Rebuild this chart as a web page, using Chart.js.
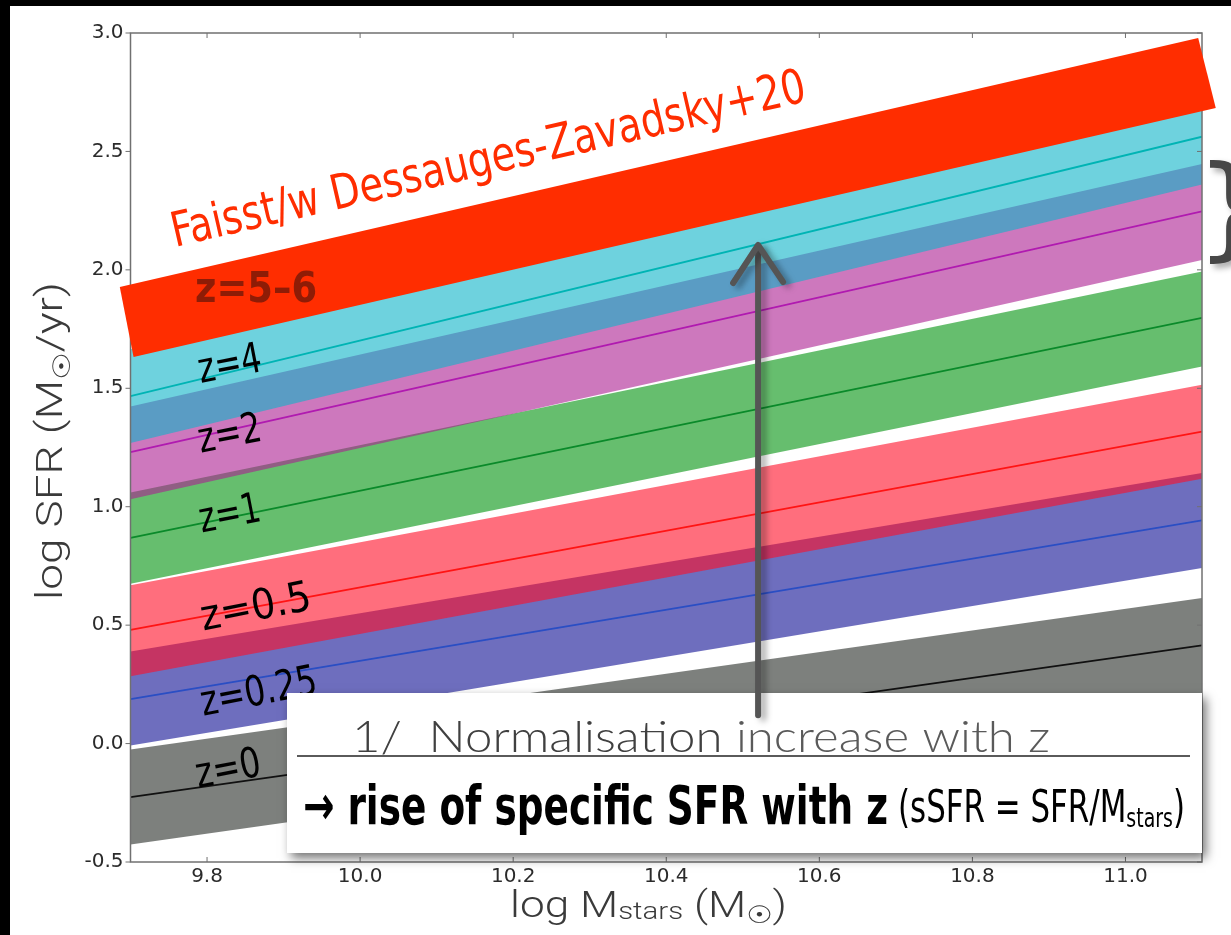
<!DOCTYPE html>
<html>
<head>
<meta charset="utf-8">
<script src="https://cdn.jsdelivr.net/npm/chart.js@4.4.1/dist/chart.umd.min.js"></script>
<style>
  html, body { margin: 0; padding: 0; background: #000; }
  body { width: 1231px; height: 935px; overflow: hidden; position: relative; }
  #wrap { position: absolute; left: 10px; top: 6px; width: 1221px; height: 929px; background: #fff; }
  canvas { display: block; }
</style>
</head>
<body>
<div id="wrap"><canvas id="ms" width="1221" height="929"></canvas></div>
<script>
// Stellar mass grid (log M*) at which each main-sequence band is given
const massX = [9.7, 11.1];

// Main-sequence bands: lower edge, centre line, upper edge (log SFR)
const loZ0   = [-0.426, 0.215];
const midZ0  = [-0.226, 0.415];
const upZ0   = [-0.025, 0.615];

const loZ025  = [-0.008, 0.741];
const midZ025 = [0.188, 0.942];
const upZ025  = [0.389, 1.142];

const loZ05  = [0.284, 1.118];
const midZ05 = [0.480, 1.317];
const upZ05  = [0.668, 1.515];

const loZ1   = [0.675, 1.592];
const midZ1  = [0.868, 1.797];
const upZ1   = [1.060, 1.993];

const loZ2   = [1.032, 2.042];
const midZ2  = [1.230, 2.247];
const upZ2   = [1.423, 2.447];

const loZ4   = [1.269, 2.360];
const midZ4  = [1.467, 2.562];
const upZ4   = [1.665, 2.762];

// z = 5-6 band (corners, log M* / log SFR)
const faisstMass = [9.686, 11.095, 11.118, 9.704];
const faisstSfr  = [1.928, 2.979, 2.683, 1.632];

// Normalisation arrow (log M*, log SFR from tail to head)
const arrowMass = 10.52;
const arrowSfr  = [0.12, 2.105];

// Axis ticks
const xTicks = [9.8, 10.0, 10.2, 10.4, 10.6, 10.8, 11.0];
const yTicks = [-0.5, 0.0, 0.5, 1.0, 1.5, 2.0, 2.5, 3.0];

const bandLabels = ['z=0', 'z=0.25', 'z=0.5', 'z=1', 'z=2', 'z=4'];

const bands = [
  { lo: loZ0,  mid: midZ0,  up: upZ0,  fill: 'rgba(38,43,38,0.6)',   line: '#111111' },
  { lo: loZ025, mid: midZ025, up: upZ025, fill: 'rgba(13,13,147,0.6)', line: '#2a4ec4' },
  { lo: loZ05, mid: midZ05, up: upZ05, fill: 'rgba(255,13,38,0.6)',   line: '#ff1414' },
  { lo: loZ1,  mid: midZ1,  up: upZ1,  fill: 'rgba(0,147,13,0.6)',    line: '#0a8a2a' },
  { lo: loZ2,  mid: midZ2,  up: upZ2,  fill: 'rgba(172,30,145,0.6)',  line: '#b01ab0' },
  { lo: loZ4,  mid: midZ4,  up: upZ4,  fill: 'rgba(13,180,200,0.6)',  line: '#00b4b4' }
];

const toPts = ys => massX.map((m, i) => ({ x: m, y: ys[i] }));

const datasets = [];
bands.forEach((b, i) => {
  const base = (bands.length - i) * 10;  // higher redshift drawn on top
  const upIdx = datasets.length;
  datasets.push({ label: bandLabels[i] + ' upper', data: toPts(b.up), fill: upIdx + 1,
    backgroundColor: b.fill, borderColor: 'rgba(0,0,0,0)', borderWidth: 0, pointRadius: 0, order: base });
  datasets.push({ label: bandLabels[i] + ' lower', data: toPts(b.lo), fill: false,
    borderColor: 'rgba(0,0,0,0)', borderWidth: 0, pointRadius: 0, order: base });
  datasets.push({ label: bandLabels[i], data: toPts(b.mid), fill: false,
    borderColor: b.line, borderWidth: 1.8, pointRadius: 0, order: base - 1 });
});

// Redshift labels placed in data space
const zLabelPos = [
  { text: 'z=0',    x: 9.827, y: -0.098, w: 66 },
  { text: 'z=0.25', x: 9.867, y: 0.227,  w: 118 },
  { text: 'z=0.5',  x: 9.863, y: 0.585,  w: 112 },
  { text: 'z=1',    x: 9.829, y: 0.978,  w: 62 },
  { text: 'z=2',    x: 9.829, y: 1.316,  w: 64 },
  { text: 'z=4',    x: 9.829, y: 1.610,  w: 64 }
];

const COND = "'DejaVu Sans Condensed', 'Liberation Sans Narrow', 'DejaVu Sans', sans-serif";
const THIN = "Roboto, 'Liberation Sans', sans-serif";

function drawSegs(ctx, segs, x, y, width, align) {
  let total = 0;
  segs.forEach(s => { ctx.font = s.font; s.w = ctx.measureText(s.text).width; total += s.w; });
  const k = width ? width / total : 1;
  ctx.save();
  ctx.translate(x, y);
  ctx.scale(k, 1);
  let cx = align === 'center' ? -total / 2 : 0;
  ctx.textAlign = 'left';
  ctx.textBaseline = 'alphabetic';
  segs.forEach(s => {
    ctx.font = s.font;
    ctx.fillStyle = s.color;
    ctx.fillText(s.text, cx, s.dy || 0);
    cx += s.w;
  });
  ctx.restore();
}

const overlay = {
  id: 'overlay',
  afterDraw(chart) {
    const { ctx, chartArea: a, scales } = chart;
    const px = v => scales.x.getPixelForValue(v);
    const py = v => scales.y.getPixelForValue(v);
    const seg = (x1, y1, x2, y2) => { ctx.beginPath(); ctx.moveTo(x1, y1); ctx.lineTo(x2, y2); ctx.stroke(); };

    ctx.save();
    // plot frame and tick marks
    ctx.strokeStyle = '#707070';
    ctx.lineWidth = 1.5;
    ctx.strokeRect(a.left, a.top, a.right - a.left, a.bottom - a.top);
    ctx.lineWidth = 1;
    xTicks.forEach(t => { const X = px(t); seg(X, a.bottom, X, a.bottom - 5); seg(X, a.top, X, a.top + 5); });
    yTicks.forEach(t => { const Y = py(t); seg(a.left - 5, Y, a.left, Y); seg(a.right, Y, a.right - 5, Y); });

    // z = 5-6 band
    ctx.beginPath();
    faisstMass.forEach((m, i) => {
      const X = px(m), Y = py(faisstSfr[i]);
      if (i) ctx.lineTo(X, Y); else ctx.moveTo(X, Y);
    });
    ctx.closePath();
    ctx.fillStyle = '#ff2d00';
    ctx.fill();

    // band title along the band
    const ang = Math.atan2(py(faisstSfr[1]) - py(faisstSfr[0]), px(faisstMass[1]) - px(faisstMass[0]));
    ctx.save();
    ctx.translate(px(9.758), py(2.097));
    ctx.rotate(ang);
    drawSegs(ctx, [{ text: 'Faisst/w Dessauges-Zavadsky+20', font: '48px ' + COND, color: '#ff2d00' }], 0, 0, 650);
    ctx.restore();

    // z=5–6 label
    drawSegs(ctx, [{ text: 'z=5\u20136', font: 'bold 42px ' + COND, color: '#8e1c06' }],
      px(9.864), py(1.928) + 15, 122, 'center');

    // redshift labels
    zLabelPos.forEach(l => {
      ctx.save();
      ctx.translate(px(l.x), py(l.y));
      ctx.rotate(-11 * Math.PI / 180);
      drawSegs(ctx, [{ text: l.text, font: '42px ' + COND, color: '#000' }], 0, 15, l.w, 'center');
      ctx.restore();
    });

    // text box
    const bx = 277, by = 687, bw = a.right - 277, bh = 160;
    ctx.save();
    ctx.shadowColor = 'rgba(0,0,0,0.55)';
    ctx.shadowBlur = 10;
    ctx.shadowOffsetX = 4;
    ctx.shadowOffsetY = 5;
    ctx.fillStyle = '#ffffff';
    ctx.fillRect(bx, by, bw, bh);
    ctx.restore();

    drawSegs(ctx, [
      { text: '1/  Normalisation', font: "300 44px Lato, 'Open Sans', sans-serif", color: '#404040' },
      { text: ' increase with z', font: "300 44px Lato, 'Open Sans', sans-serif", color: '#5a5a5a' }
    ], 342, 746, 698);

    ctx.strokeStyle = '#5a5a5a';
    ctx.lineWidth = 2;
    seg(287, 750, 1180, 750);

    drawSegs(ctx, [{ text: '\u2192 rise of specific SFR with z', font: 'bold 54px ' + COND, color: '#000' }],
      293, 818, 585);
    drawSegs(ctx, [
      { text: '(sSFR = SFR/M', font: '44px ' + COND, color: '#000' },
      { text: 'stars', font: '27px ' + COND, color: '#000', dy: 5 },
      { text: ')', font: '44px ' + COND, color: '#000' }
    ], 888, 816, 287);

    // normalisation arrow
    ctx.save();
    ctx.shadowColor = 'rgba(0,0,0,0.35)';
    ctx.shadowBlur = 6;
    ctx.shadowOffsetX = 5;
    ctx.shadowOffsetY = 3;
    ctx.strokeStyle = '#555555';
    ctx.lineWidth = 6;
    ctx.lineCap = 'round';
    ctx.lineJoin = 'round';
    const ax = px(arrowMass), ay0 = py(arrowSfr[0]), ay1 = py(arrowSfr[1]);
    ctx.beginPath();
    ctx.moveTo(ax, ay0);
    ctx.lineTo(ax, ay1 + 4);
    ctx.stroke();
    ctx.beginPath();
    ctx.moveTo(ax - 25, ay1 + 38);
    ctx.lineTo(ax, ay1);
    ctx.lineTo(ax + 25, ay1 + 37);
    ctx.stroke();
    ctx.restore();

    // brace at the right edge
    ctx.save();
    ctx.shadowColor = 'rgba(0,0,0,0.35)';
    ctx.shadowBlur = 6;
    ctx.shadowOffsetX = 4;
    ctx.shadowOffsetY = 4;
    ctx.fillStyle = '#474747';
    ctx.font = "112px 'DejaVu Sans', sans-serif";
    ctx.textAlign = 'left';
    ctx.textBaseline = 'alphabetic';
    ctx.fillText('}', 1186, 239);
    ctx.restore();

    // axis titles
    ctx.save();
    ctx.translate(52, 435);
    ctx.rotate(-Math.PI / 2);
    drawSegs(ctx, [
      { text: 'log SFR (M', font: '300 36px ' + THIN, color: '#3a3a3a' },
      { text: '\u2609', font: "24px 'DejaVu Sans', sans-serif", color: '#3a3a3a', dy: 8 },
      { text: '/yr)', font: '300 36px ' + THIN, color: '#3a3a3a' }
    ], 0, 0, 318, 'center');
    ctx.restore();

    drawSegs(ctx, [
      { text: 'log M', font: '300 36px ' + THIN, color: '#3a3a3a' },
      { text: 'stars', font: '300 24px ' + THIN, color: '#3a3a3a', dy: 2 },
      { text: ' (M', font: '300 36px ' + THIN, color: '#3a3a3a' },
      { text: '\u2609', font: "24px 'DejaVu Sans', sans-serif", color: '#3a3a3a', dy: 6 },
      { text: ')', font: '300 36px ' + THIN, color: '#3a3a3a' }
    ], 500, 911, 277);

    ctx.restore();
  }
};

const tickFont = { family: "'DejaVu Sans', sans-serif", size: 20 };

new Chart(document.getElementById('ms'), {
  type: 'line',
  data: { datasets },
  options: {
    responsive: false,
    animation: false,
    devicePixelRatio: 1,
    events: [],
    layout: { padding: { top: 27, right: 29, left: 0, bottom: 0 } },
    plugins: { legend: { display: false }, tooltip: { enabled: false } },
    scales: {
      x: {
        type: 'linear', min: 9.7, max: 11.1,
        grid: { display: false, drawTicks: false },
        border: { display: false },
        afterBuildTicks: s => { s.ticks = xTicks.map(v => ({ value: v })); },
        afterFit: s => { s.height = 73; },
        ticks: { font: tickFont, color: '#2b2b2b', padding: 3, maxRotation: 0, callback: v => v.toFixed(1) }
      },
      y: {
        type: 'linear', min: -0.5, max: 3.0,
        grid: { display: false, drawTicks: false },
        border: { display: false },
        afterBuildTicks: s => { s.ticks = yTicks.map(v => ({ value: v })); },
        afterFit: s => { s.width = 120.5; },
        ticks: { font: tickFont, color: '#2b2b2b', padding: 7, callback: v => v.toFixed(1) }
      }
    }
  },
  plugins: [overlay]
});
</script>
</body>
</html>
